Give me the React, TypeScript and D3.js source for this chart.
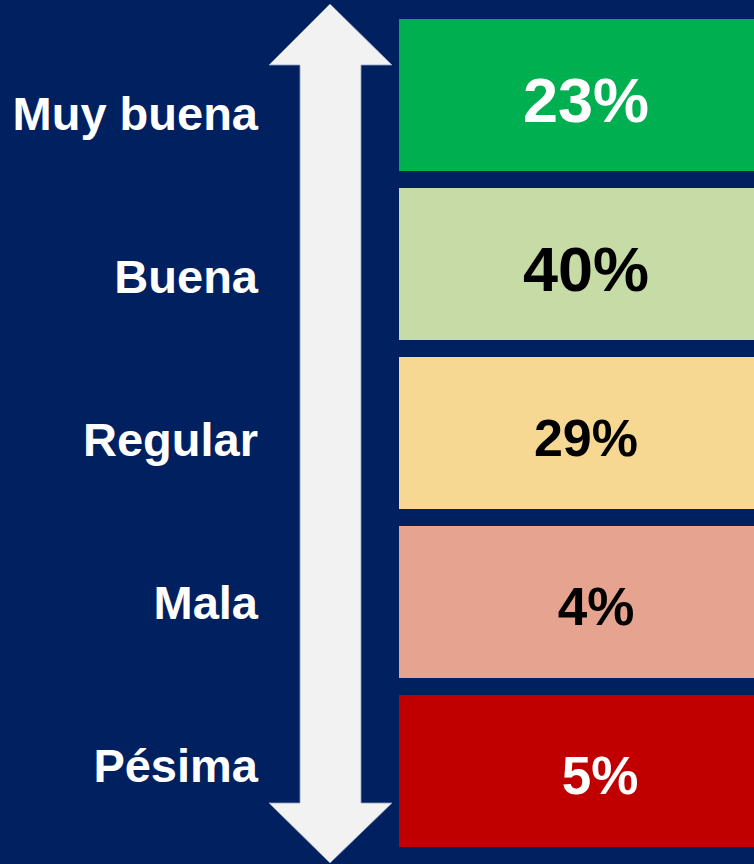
import React from "react";
import * as d3 from "d3";

// rating categories, from best to worst
const categories = ["Muy buena", "Buena", "Regular", "Mala", "Pésima"];
const percents = [23, 40, 29, 4, 5];
const boxColors = ["#00b050", "#c6dba5", "#f6d893", "#e6a390", "#c00000"];
const valueColors = ["#ffffff", "#000000", "#000000", "#000000", "#ffffff"];
const valueSizes = [63, 63, 52, 53, 53];
const valueCenters = [586, 586, 586, 596, 600];

const width = 754;
const height = 864;

function App() {
  const y = d3.scaleBand<string>()
    .domain(categories)
    .range([19, 847])
    .paddingInner(0.1006)
    .paddingOuter(0);

  // the labels on the left are spaced a bit differently from the boxes
  const labelY = d3.scalePoint<string>()
    .domain(categories)
    .range([130, 782]);

  const boxLeft = 399;
  const boxRight = width;

  // double headed arrow
  const ax = 330;
  const p = d3.path();
  p.moveTo(ax, 4);
  p.lineTo(392, 65);
  p.lineTo(361, 65);
  p.lineTo(361, 803);
  p.lineTo(392, 803);
  p.lineTo(ax, 863);
  p.lineTo(269, 803);
  p.lineTo(300, 803);
  p.lineTo(300, 65);
  p.lineTo(269, 65);
  p.closePath();

  return (
    <svg
      width={width}
      height={height}
      style={{ position: "absolute", left: 0, top: 0, display: "block" }}
      fontFamily="'Liberation Sans', Arial, sans-serif"
      fontWeight="bold"
    >
      <rect x={0} y={0} width={width} height={height} fill="#002060" />
      <path d={p.toString()} fill="#f2f2f2" stroke="#8ea0c0" strokeWidth={0.8} />
      {categories.map((c, i) => {
        const top = y(c)!;
        const mid = top + y.bandwidth() / 2;
        const fs = valueSizes[i];
        return (
          <g key={c}>
            <rect x={boxLeft} y={top} width={boxRight - boxLeft} height={y.bandwidth()} fill={boxColors[i]} />
            <text
              x={valueCenters[i]}
              y={mid + fs * 0.716 / 2 + 4}
              textAnchor="middle"
              fontSize={fs}
              fill={valueColors[i]}
            >
              {percents[i]}%
            </text>
            <text x={258} y={labelY(c)!} textAnchor="end" fontSize={47} fill="#ffffff">
              {c}
            </text>
          </g>
        );
      })}
    </svg>
  );
}

export default App;
